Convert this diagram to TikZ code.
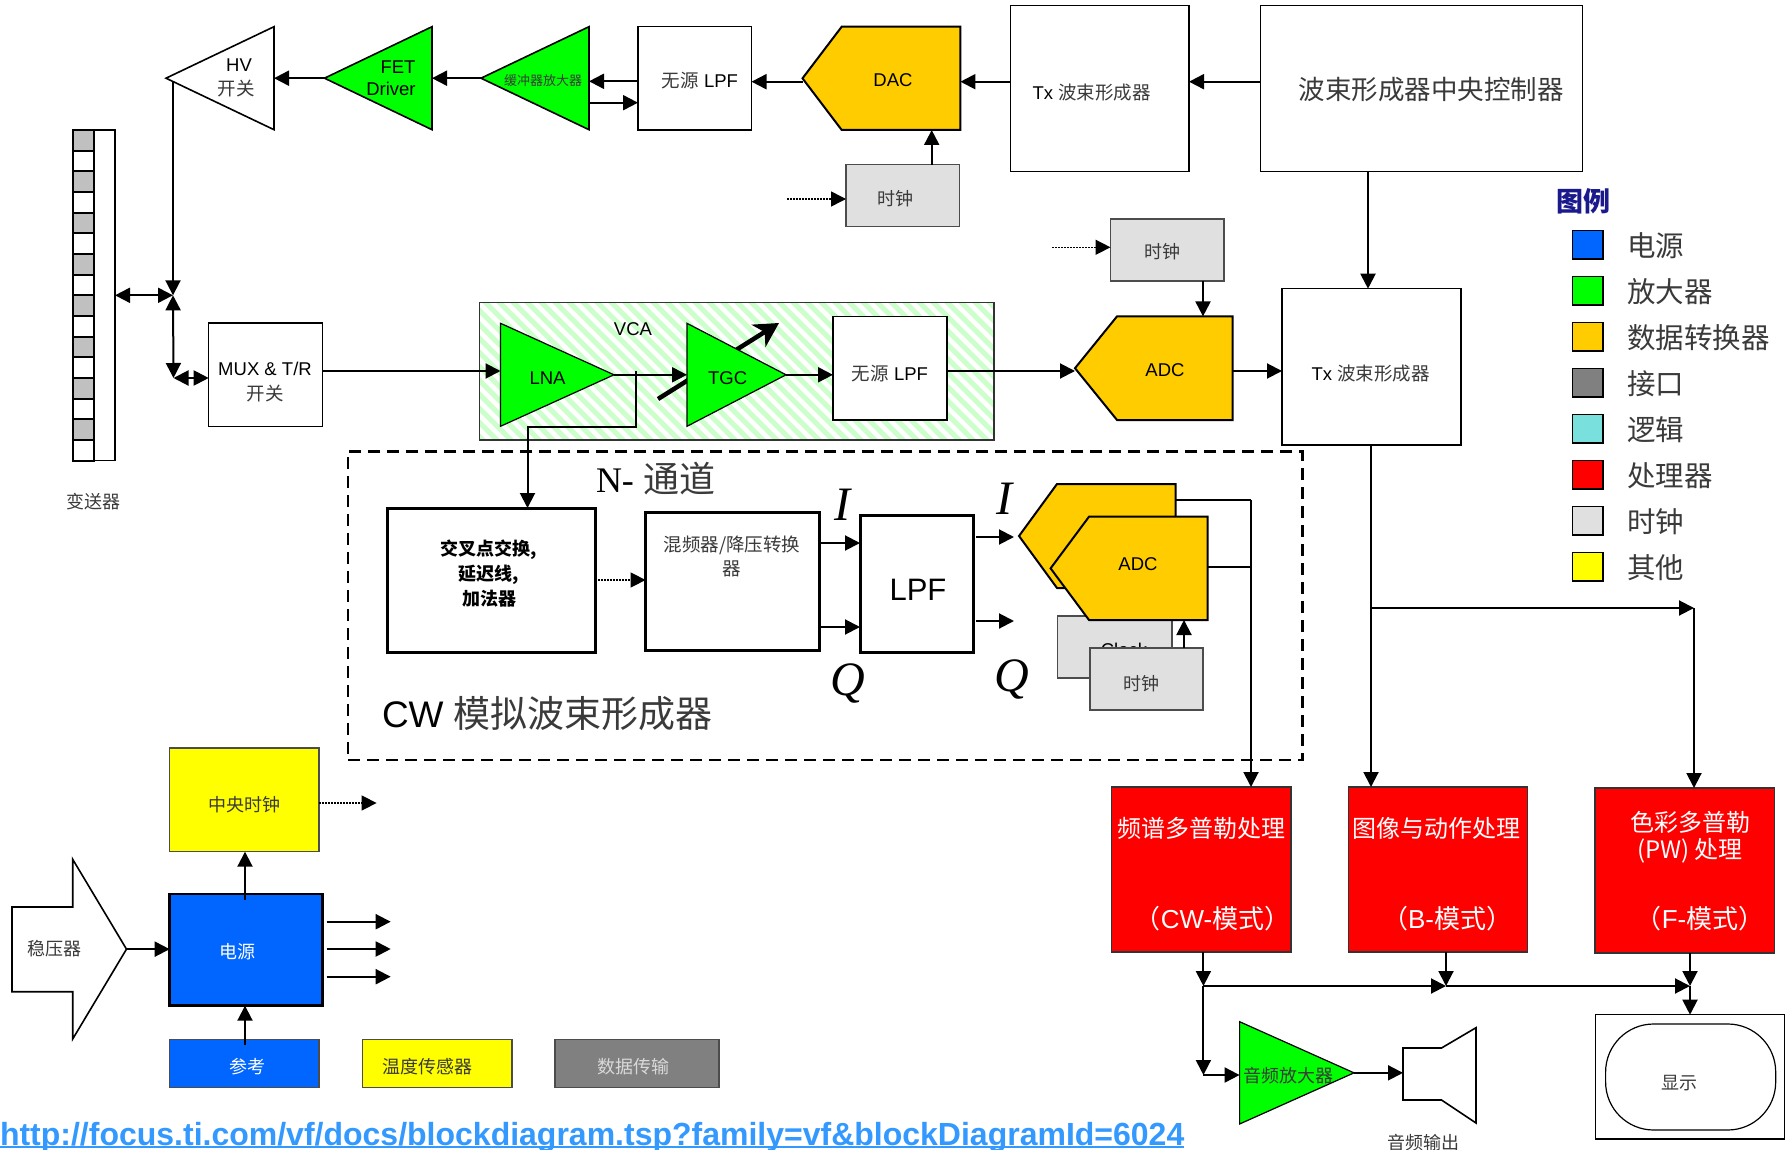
\documentclass[tikz,border=0pt]{standalone}
\usepackage{fontspec}
\setmainfont{Liberation Sans}
\newfontfamily\cjkbase{Noto Sans CJK SC}
\newfontfamily\timesf{Liberation Serif}
\usetikzlibrary{arrows.meta,calc}
\definecolor{cblue}{HTML}{0066FF}
\definecolor{cgreen}{HTML}{00FF00}
\definecolor{corange}{HTML}{FFCC00}
\definecolor{cgray}{HTML}{808080}
\definecolor{cteal}{HTML}{79E0DD}
\definecolor{cred}{HTML}{FF0000}
\definecolor{cclock}{HTML}{E0E0E0}
\definecolor{cyellow}{HTML}{FFFF00}
\definecolor{cnavy}{HTML}{1A1A8C}
\definecolor{curl}{HTML}{3399FF}
\definecolor{cstripe}{HTML}{CCFFCC}
\definecolor{cell}{HTML}{C0C0C0}
\definecolor{ink}{HTML}{3A3A3A}
\newcommand{\fs}[1]{\fontsize{#1}{#1}\selectfont}
% CJK text is set a little softer, as the thin serif of the reference reads
\newcommand{\cj}[1]{{\cjkbase\color{ink}#1}}
\newcommand{\cw}[1]{{\cjkbase #1}}
\tikzset{
  boxbase/.style={rectangle,inner sep=0pt,outer sep=0pt},
  thinbox/.style={draw=black,line width=1.2pt,fill=white},
  clockbox/.style={draw=black!70,line width=1.2pt,fill=cclock},
  thickbox/.style={draw=black,line width=3pt,fill=white},
  procbox/.style={draw=black!80,line width=1.3pt,fill=cred},
  swatch/.style={draw=black,line width=1.5pt},
  shapeline/.style={draw=black,line width=1.6pt,line join=miter},
  txt/.style={inner sep=0pt,outer sep=0pt,align=center,text=black,yshift=-1.5pt},
  wire/.style={draw=black,line width=2pt},
  arr/.style={draw=black,line width=2pt,-{Triangle[length=15pt,width=15pt]}},
  biarr/.style={draw=black,line width=2pt,{Triangle[length=15pt,width=15pt]}-{Triangle[length=15pt,width=15pt]}},
  dotarr/.style={draw=black,line width=1.5pt,dash pattern=on 1.5pt off 1.5pt,-{Triangle[length=15pt,width=15pt]}},
  stripe/.style={draw=cstripe,line width=5pt},
  dashbox/.style={draw=black,line width=2.6pt,dash pattern=on 12pt off 7pt},
}
\newcommand{\bx}[6][]{\node[boxbase,#1,minimum width={((#4)-(#2))*1pt},minimum height={((#5)-(#3))*1pt}] (#6) at ({((#2)+(#4))/2},{((#3)+(#5))/2}) {};}
\newcommand{\lab}[5][]{\node[txt,#1] (#2) at (#3,#4) {#5};}
\begin{document}
\begin{tikzpicture}[x=1pt,y=-1pt]
\useasboundingbox (0,0) rectangle (1791,1150);

% ---------- transducer
\bx[thinbox]{94}{130}{115}{460.7}{xd}
\foreach \i in {0,...,15}{
  \pgfmathtruncatemacro{\odd}{mod(\i,2)}
  \ifnum\odd=0 \def\cc{cell}\else\def\cc{white}\fi
  \draw[line width=2pt,fill=\cc] (72.5,{130+\i*20.67}) rectangle (94,{130+(\i+1)*20.67});
}
\lab{xdlab}{93.5}{500}{\fs{18}\cj{变送器}}

% ---------- transmit row
\bx{166}{26.7}{274}{129.7}{hv}
\draw[shapeline,fill=white] (hv.west) -- (hv.north east) -- (hv.south east) -- cycle;
\lab{hvt}{239}{64}{\fs{18.5}HV}
\lab{hvk}{236}{87}{\fs{18.5}\cj{开关}}
\bx{324.5}{26.7}{432}{129.7}{fet}
\draw[shapeline,fill=cgreen] (fet.west) -- (fet.north east) -- (fet.south east) -- cycle;
\lab{fett}{398}{66}{\fs{18.5}FET}
\lab{fetd}{391}{87}{\fs{18.5}Driver}
\bx{481}{26.7}{589}{129.7}{buf}
\draw[shapeline,fill=cgreen] (buf.west) -- (buf.north east) -- (buf.south east) -- cycle;
\lab{buft}{543}{79.5}{\fs{13}\cj{缓冲器放大器}}
\bx[thinbox]{638}{26.7}{751.5}{130}{lpfa}
\lab{lpfat}{700}{78.7}{\fs{18.5}\cj{无源} LPF}
\bx{802.5}{26.7}{960.4}{130}{dac}
\draw[line width=2pt,draw=black,fill=corange] (dac.west) -- (841.7,26.7) -- (dac.north east) -- (dac.south east) -- (841.7,130) -- cycle;
\lab{dact}{893}{79}{\fs{18.5}DAC}
\bx[thinbox]{1010.6}{5.7}{1189}{171.7}{tx}
\lab{txt1}{1091.7}{90.7}{\fs{18.5}Tx \cj{波束形成器}}
\bx[thinbox]{1260.6}{5.7}{1582.8}{171.7}{ctrl}
\lab{ctrlt}{1431}{88.3}{\fs{26.5}\cj{波束形成器中央控制器}}
\bx[clockbox]{846}{164.7}{959.4}{226.7}{clka}
\lab{clkat}{895.6}{196.7}{\fs{18}\cj{时钟}}
\coordinate (clkain) at (787,199);
\bx[clockbox]{1110.5}{219}{1224}{281}{clkb}
\lab{clkbt}{1162}{250}{\fs{18}\cj{时钟}}
\coordinate (clkbin) at (1052,247.3);

\draw[arr] (ctrl.west |- 0,81.7) -- (tx.east |- 0,81.7);
\draw[arr] (tx.west |- 0,81.7) -- (dac.east |- 0,81.7);
\draw[arr] (dac.west |- 0,81.7) -- (lpfa.east |- 0,81.7);
\draw[arr] (lpfa.west |- 0,81.3) -- (buf.east |- 0,81.3);
\draw[arr] (buf.east |- 0,102.7) -- (lpfa.west |- 0,102.7);
\draw[arr] (buf.west) -- (fet.east);
\draw[arr] (fet.west) -- (hv.east);
\draw[arr] (931.7,164.7) -- (931.7,130);
\draw[dotarr] (clkain) -- (clka.west |- clkain);
\draw[dotarr] (clkbin) -- (clkb.west |- clkbin);

% ---------- MUX and junctions
\coordinate (j) at (173,295.3);
\coordinate (mj) at (173.5,378);
\coordinate (hvs) at (173,82);
\bx[thinbox]{208.7}{323}{322.5}{426.3}{mux}
\lab{muxt}{265}{367.7}{\fs{18.5}MUX \& T/R}
\lab{muxk}{265}{391.7}{\fs{18.5}\cj{开关}}
\draw[arr] (hvs) -- (j);
\draw[biarr] (xd.east |- j) -- (j);
\draw[biarr] (j) -- (mj);
\draw[biarr] (mj) -- (mux.west |- mj);

% ---------- VCA
\bx{479.6}{302.7}{994}{440}{vca}
\begin{scope}
\clip (vca.north west) rectangle (vca.south east);
\foreach \x in {310,324,...,1000} \draw[stripe] (\x,295) -- ++(160,160);
\end{scope}
\draw[draw=black!80,line width=1.2pt] (vca.north west) rectangle (vca.south east);
\lab{vcat}{633}{327.7}{\fs{18.5}VCA}
\coordinate (gaina) at (658,399);
\coordinate (gainb) at (779,323);
\draw[draw=black,line width=4.5pt,-{Stealth[length=24pt,width=26pt,inset=7pt]}] (gaina) -- (gainb);
\bx{500.5}{323.3}{614}{426.3}{lna}
\draw[draw=black,line width=1.2pt,fill=cgreen] (lna.north west) -- (lna.east) -- (lna.south west) -- cycle;
\lab{lnat}{547.5}{376.7}{\fs{18.5}LNA}
\bx{687}{323.3}{786}{426.3}{tgc}
\draw[draw=black,line width=1.2pt,fill=cgreen] (tgc.north west) -- (tgc.east) -- (tgc.south west) -- cycle;
\lab{tgct}{727.6}{376.7}{\fs{18.5}TGC}
\bx[thinbox]{833}{316.4}{947}{420}{lpfb}
\lab{lpfbt}{890}{372}{\fs{18.5}\cj{无源} LPF}
\bx{1075}{316.4}{1232.5}{420}{adc}
\draw[line width=2pt,draw=black,fill=corange] (adc.west) -- (1117,316.4) -- (adc.north east) -- (adc.south east) -- (1117,420) -- cycle;
\lab{adct}{1165}{369}{\fs{18.5}ADC}
\bx[thinbox]{1282}{288.7}{1461}{445}{txb}
\lab{txbt}{1370.6}{372.4}{\fs{18.5}Tx \cj{波束形成器}}

\draw[arr] (mux.east |- 0,371) -- (lna.west |- 0,371);
\draw[arr] (lna.east) -- (tgc.west |- lna.east);
\draw[arr] (tgc.east) -- (lpfb.west |- tgc.east);
\draw[arr] (lpfb.east |- 0,371) -- (adc.west |- 0,371);
\draw[arr] (adc.east |- 0,371) -- (txb.west |- 0,371);
\draw[arr] (clkb.south -| 1203,0) -- (adc.north -| 1203,0);
\draw[arr] (ctrl.south -| 1368,0) -- (txb.north -| 1368,0);

% ---------- CW beamformer
\bx[dashbox]{348}{451.7}{1302.5}{760}{cwbox}
\lab[anchor=west]{nch}{596}{477}{\fs{36}{\timesf N-} \cj{通道}}
\lab[anchor=west]{cwt}{382}{712}{\fs{37}CW \cj{模拟波束形成器}}
\bx[thickbox]{387}{508}{595}{652.7}{xp}
\lab{xp1}{489}{548}{\fs{18}\bfseries\cw{交叉点交换,}}
\lab{xp2}{489}{573}{\fs{18}\bfseries\cw{延迟线,}}
\lab{xp3}{489}{597}{\fs{18}\bfseries\cw{加法器}}
\bx[thickbox]{645.6}{512}{819}{650}{mix}
\lab{mix1}{732}{544}{\fs{18.5}\cj{混频器/降压转换}}
\lab{mix2}{732}{567}{\fs{18.5}\cj{器}}
\bx[thickbox]{860}{515}{973}{652}{lpfc}
\lab{lpfct}{918}{588}{\fs{31}LPF}
\lab{ia}{842}{503}{\fs{48}\timesf\itshape I}
\lab{ib}{1004}{497}{\fs{48}\timesf\itshape I}
\lab{qa}{848}{682}{\fs{48}\timesf\itshape Q}
\lab{qb}{1012}{678}{\fs{48}\timesf\itshape Q}
\coordinate (lo1) at (1014,537);
\coordinate (lo2) at (1014,621);
\bx{1019}{484}{1175.6}{588}{adcb}
\draw[line width=2pt,draw=black,fill=corange] (adcb.west) -- (1057,484) -- (adcb.north east) -- (adcb.south east) -- (1057,588) -- cycle;
\bx[clockbox]{1057.5}{616}{1172}{678}{clkc}
\lab{clkct}{1124}{648.5}{\fs{18.5}Clock}
\bx{1050.6}{516.7}{1207.5}{620}{adcf}
\draw[line width=2pt,draw=black,fill=corange] (adcf.west) -- (1089,516.7) -- (adcf.north east) -- (adcf.south east) -- (1089,620) -- cycle;
\lab{adcft}{1138}{563}{\fs{18.5}ADC}
\bx[clockbox]{1090}{648}{1203}{710}{clkd}
\lab{clkdt}{1141}{681.7}{\fs{18}\cj{时钟}}
\draw[arr] (clkd.north -| 1184,0) -- (adcf.south -| 1184,0);

\draw[arr] (635.7,371) -- (635.7,426.7) -- (527.5,426.7) -- (xp.north -| 527.5,0);
\draw[dotarr] (xp.east |- 0,580) -- (mix.west |- 0,580);
\draw[arr] (mix.east |- 0,543) -- (lpfc.west |- 0,543);
\draw[arr] (mix.east |- 0,627) -- (lpfc.west |- 0,627);
\draw[arr] (976,537) -- (lo1);
\draw[arr] (976,621) -- (lo2);

% ---------- processors
\bx[procbox]{1111.7}{787}{1291}{952}{pa}
\lab{pat}{1201}{826.7}{\fs{24}\color{white}\cw{频谱多普勒处理}}
\lab{pam}{1212.6}{917}{\fs{26}\color{white}\cw{（}CW-\cw{模式）}}
\bx[procbox]{1348.5}{787}{1527.6}{952}{pb}
\lab{pbt}{1436}{826.7}{\fs{24}\color{white}\cw{图像与动作处理}}
\lab{pbm}{1447}{917}{\fs{26}\color{white}\cw{（}B-\cw{模式）}}
\bx[procbox]{1595}{788}{1774.8}{953}{pc}
\lab{pct}{1690}{820.7}{\fs{24}\color{white}\cw{色彩多普勒}}
\lab{pcu}{1690}{849}{\fs{24}\color{white}\cw{(PW) 处理}}
\lab{pcm}{1700}{917}{\fs{26}\color{white}\cw{（}F-\cw{模式）}}

\coordinate (branch) at (1371,608);
\coordinate (branchr) at (1694,608);
\draw[arr] (txb.south -| 1371,0) -- (pb.north -| 1371,0);
\draw[arr] (branch) -- (branchr);
\draw[arr] (branchr) -- (pc.north -| branchr);
\draw[line width=2pt] (adcb.east |- 0,500) -- (1251,500);
\draw[wire] (adcf.east |- 0,566.7) -- (1251,566.7);
\draw[arr] (1251,500) -- (pa.north -| 1251,0);

% ---------- audio and display
\bx{1239.6}{1021.7}{1354}{1124}{amp}
\draw[draw=black,line width=1.2pt,fill=cgreen] (amp.north west) -- (amp.east) -- (amp.south west) -- cycle;
\lab{ampt}{1288.6}{1074}{\fs{18}\cj{音频放大器}}
\bx{1403}{1027.7}{1476}{1123}{spk}
\draw[shapeline,fill=white] (1403,1048) -- (1441.5,1048) -- (spk.north east) -- (spk.south east) -- (1441.5,1100) -- (1403,1100) -- cycle;
\lab{spkt}{1423.8}{1140.7}{\fs{18}\cj{音频输出}}
\bx[thinbox]{1595.6}{1014.7}{1784.8}{1139}{disp}
\draw[line width=1.2pt,rounded corners=48pt] (1605.6,1024) rectangle (1775.7,1130);
\lab{dispt}{1679.5}{1081.7}{\fs{18}\cj{显示}}

\coordinate (ja) at (1203.4,986);
\coordinate (jb) at (1446,986);
\coordinate (jc) at (1690,986);
\coordinate (jd) at (1203.4,1075);
\draw[arr] (pa.south -| ja) -- (ja);
\draw[arr] (pb.south -| jb) -- (jb);
\draw[arr] (pc.south -| jc) -- (jc);
\draw[arr] (ja) -- (jb);
\draw[arr] (jb) -- (jc);
\draw[arr] (ja) -- (jd);
\draw[arr] (jc) -- (disp.north -| jc);
\draw[arr] (jd) -- (amp.west |- jd);
\draw[arr] (amp.east) -- (spk.west |- amp.east);

% ---------- power section
\bx[draw=black!70,line width=1.2pt,fill=cyellow]{169.7}{748}{319}{851.7}{cen}
\lab{cent}{244}{803}{\fs{18}\cj{中央时钟}}
\coordinate (cenout) at (376.6,803);
\bx[draw=black,line width=2.6pt,fill=cblue]{169.7}{894}{322.3}{1005.7}{psu}
\lab{psut}{237.5}{950}{\fs{18}\color{white}\cw{电源}}
\bx{12}{859.3}{126.5}{1039}{reg}
\draw[shapeline,fill=white] (12,907) -- (72.7,907) -- (72.7,859.3) -- (reg.east) -- (72.7,1039) -- (72.7,991.7) -- (12,991.7) -- cycle;
\lab{regt}{54.8}{947}{\fs{18}\cj{稳压器}}
\bx[draw=black!70,line width=1.2pt,fill=cblue]{169.7}{1039.7}{319}{1087.7}{refb}
\lab{reft}{247}{1065}{\fs{18}\color{white}\cw{参考}}
\bx[draw=black!70,line width=1.2pt,fill=cyellow]{362.6}{1039.7}{512}{1087.7}{temp}
\lab{tempt}{427.5}{1065}{\fs{18}\cj{温度传感器}}
\bx[draw=black!70,line width=1.2pt,fill=cgray]{555}{1039.7}{719}{1087.7}{data}
\lab{datat}{633}{1065}{\fs{18}\color{black!15}\cw{数据传输}}

\coordinate (oa) at (390.7,921.7);
\coordinate (ob) at (390.7,949);
\coordinate (oc) at (390.7,976.7);
\draw[arr] (326.7,921.7) -- (oa);
\draw[arr] (326.7,949) -- (ob);
\draw[arr] (326.7,976.7) -- (oc);
\draw[arr] (245,900) -- (cen.south -| 245,0);
\draw[arr] (245,1045) -- (psu.south -| 245,0);
\draw[arr] (reg.east) -- (psu.west |- reg.east);
\draw[dotarr] (cen.east |- cenout) -- (cenout);

% ---------- legend
\lab{legt}{1583}{200}{\fs{27}\bfseries\color{cnavy}\cw{图例}}
\foreach \n/\c/\t [count=\i from 0] in {a/cblue/电源,b/cgreen/放大器,c/corange/数据转换器,d/cgray/接口,e/cteal/逻辑,f/cred/处理器,g/cclock/时钟,h/cyellow/其他}{
  \bx[swatch,fill=\c]{1572.7}{230.7+\i*46}{1603}{259+\i*46}{sw\n}
  \lab[anchor=west]{swt\n}{1627}{244.5+\i*46}{\fs{28.5}\cj{\t}}
}

% ---------- link
\lab[anchor=west]{url}{0}{1136}{\fs{32}\bfseries\color{curl}http://focus.ti.com/vf/docs/blockdiagram.tsp?family=vf\&blockDiagramId=6024}
\draw[draw=curl,line width=2.2pt] (url.west |- 0,1147) -- (url.east |- 0,1147);
\end{tikzpicture}
\end{document}
